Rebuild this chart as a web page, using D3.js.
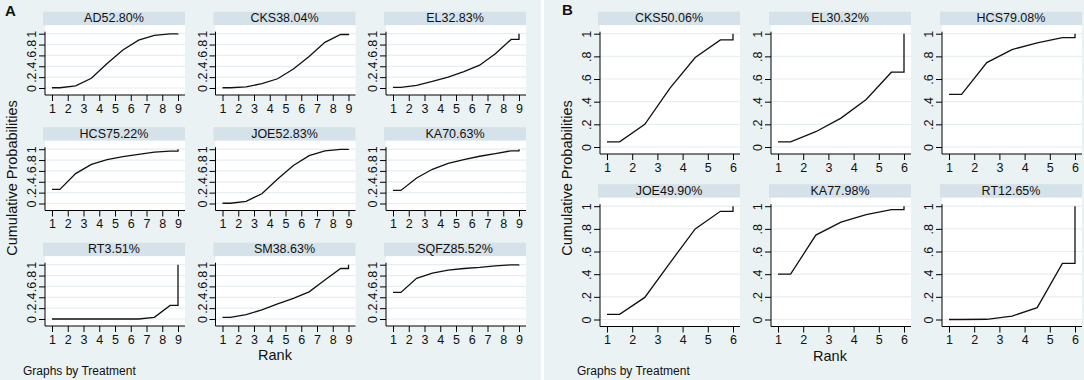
<!DOCTYPE html>
<html>
<head>
<meta charset="utf-8">
<script src="https://cdn.jsdelivr.net/npm/d3@7"></script>
<style>
  body { margin: 0; background: #fff; }
  svg { display: block; font-family: "Liberation Sans", Arial, sans-serif; }
</style>
</head>
<body>
<div id="chart"></div>
<script>
// --------------------------------------
//  Data (cumulative rank probabilities, last rank = 1)
// --------------------------------------

const ranksA = [1, 2, 3, 4, 5, 6, 7, 8, 9];
const ranksB = [1, 2, 3, 4, 5, 6];
const yTicks = [0, 0.2, 0.4, 0.6, 0.8, 1];
const yTickLabels = ["0", ".2", ".4", ".6", ".8", "1"];

const titlesA = ["AD52.80%", "CKS38.04%", "EL32.83%", "HCS75.22%", "JOE52.83%",
                 "KA70.63%", "RT3.51%", "SM38.63%", "SQFZ85.52%"];
const adA   = [0.005, 0.04, 0.18, 0.45, 0.70, 0.88, 0.97, 0.995, 1];
const cksA  = [0.005, 0.02, 0.08, 0.17, 0.35, 0.58, 0.84, 0.985, 1];
const elA   = [0.01, 0.05, 0.12, 0.20, 0.30, 0.42, 0.63, 0.895, 1];
const hcsA  = [0.26, 0.55, 0.72, 0.81, 0.865, 0.905, 0.945, 0.965, 1];
const joeA  = [0.005, 0.04, 0.18, 0.45, 0.70, 0.88, 0.97, 0.995, 1];
const kaA   = [0.24, 0.47, 0.63, 0.74, 0.81, 0.87, 0.92, 0.97, 1];
const rtA   = [0, 0, 0, 0, 0, 0, 0.03, 0.25, 1];
const smA   = [0.03, 0.08, 0.17, 0.28, 0.38, 0.50, 0.72, 0.93, 1];
const sqfzA = [0.49, 0.75, 0.845, 0.90, 0.93, 0.95, 0.98, 0.997, 1];
const seriesA = [adA, cksA, elA, hcsA, joeA, kaA, rtA, smA, sqfzA];

const titlesB = ["CKS50.06%", "EL30.32%", "HCS79.08%", "JOE49.90%", "KA77.98%", "RT12.65%"];
const cksB = [0.045, 0.20, 0.52, 0.79, 0.945, 1];
const elB  = [0.045, 0.135, 0.255, 0.42, 0.66, 1];
const hcsB = [0.465, 0.745, 0.86, 0.92, 0.965, 1];
const joeB = [0.045, 0.195, 0.50, 0.80, 0.955, 1];
const kaB  = [0.40, 0.745, 0.86, 0.925, 0.969, 1];
const rtB  = [0, 0.002, 0.03, 0.105, 0.495, 1];
const seriesB = [cksB, elB, hcsB, joeB, kaB, rtB];

// --------------------------------------
//  Canvas
// --------------------------------------

const width = 1084, height = 380;
const bg = "#eaf2f3", headBg = "#d6e2e9", grid = "#e6eef1";

const svg = d3.select("#chart")
  .append("svg")
    .attr("width", width)
    .attr("height", height);

svg.append("rect")
    .attr("width", width)
    .attr("height", height)
    .attr("fill", bg);

svg.append("rect")
    .attr("x", 541).attr("y", 0)
    .attr("width", 3).attr("height", height)
    .attr("fill", "#fff");

// --------------------------------------
//  One facet
// --------------------------------------

function facet(left, top, plotH, title, values, ranks) {
  const g = svg.append("g");
  const n = ranks.length;
  const pw = 140;
  const headH = 13.5;
  const axisY = top + plotH;

  const x = d3.scaleLinear([1, n], [left + 7, left + 133]);
  const y = d3.scaleLinear([0, 1], [axisY - 7, top + 22]);

  // header strip
  g.append("rect")
      .attr("x", left - 2).attr("y", top)
      .attr("width", pw + 2).attr("height", headH)
      .attr("fill", headBg);
  g.append("text")
      .attr("x", left + pw / 2 - 1).attr("y", top + 10.5)
      .attr("text-anchor", "middle")
      .attr("font-size", 12.5)
      .attr("fill", "#111")
      .text(title);

  // plot region
  g.append("rect")
      .attr("x", left).attr("y", top + headH)
      .attr("width", pw).attr("height", axisY - top - headH)
      .attr("fill", "#fff");

  g.selectAll("line.grid")
    .data(yTicks)
    .join("line")
      .attr("class", "grid")
      .attr("x1", left).attr("x2", left + pw)
      .attr("y1", d => y(d)).attr("y2", d => y(d))
      .attr("stroke", grid)
      .attr("stroke-width", 1.2);

  // axes
  const yAxis = g.append("g")
      .attr("transform", `translate(${left},0)`)
      .call(d3.axisLeft(y).tickValues(yTicks).tickSize(6).tickSizeOuter(0)
        .tickFormat((d, i) => yTickLabels[i]))
      .call(a => a.select(".domain").remove());
  yAxis.selectAll("text")
      .attr("x", null).attr("dy", null)
      .attr("text-anchor", "middle")
      .attr("transform", "translate(-9,0) rotate(-90)")
      .attr("font-size", 12.5)
      .attr("font-family", "Liberation Sans, Arial, sans-serif")
      .attr("fill", "#111");

  const xAxis = g.append("g")
      .attr("transform", `translate(0,${axisY})`)
      .call(d3.axisBottom(x).tickValues(ranks).tickSize(6).tickSizeOuter(0)
        .tickFormat(d3.format("d")))
      .call(a => a.select(".domain").remove());
  xAxis.selectAll("text")
      .attr("font-size", 12.5)
      .attr("font-family", "Liberation Sans, Arial, sans-serif")
      .attr("fill", "#111");

  g.selectAll(".tick line").attr("stroke", "#000");

  g.append("line")
      .attr("x1", left).attr("x2", left)
      .attr("y1", y(1) - 2).attr("y2", axisY)
      .attr("stroke", "#000");
  g.append("line")
      .attr("x1", left).attr("x2", left + pw)
      .attr("y1", axisY).attr("y2", axisY)
      .attr("stroke", "#000");

  // cumulative ranking curve
  const pts = [[1, values[0]]];
  for (let k = 0; k < n - 1; k++) pts.push([k + 1.5, values[k]]);
  pts.push([n, values[n - 2]], [n, values[n - 1]]);

  const line = d3.line()
      .x(d => x(d[0]))
      .y(d => y(d[1]));

  g.append("path")
      .attr("d", line(pts))
      .attr("fill", "none")
      .attr("stroke", "#111")
      .attr("stroke-width", 1.3);
}

// --------------------------------------
//  Panel A
// --------------------------------------

const leftsA = [45, 215.5, 386];
seriesA.forEach((v, i) => {
  const r = Math.floor(i / 3), c = i % 3;
  facet(leftsA[c], 11.7 + r * 115.5, 83.3, titlesA[i], v, ranksA);
});

// --------------------------------------
//  Panel B
// --------------------------------------

const leftsB = [600, 771, 942];
seriesB.forEach((v, i) => {
  const r = Math.floor(i / 3), c = i % 3;
  facet(leftsB[c], 11.7 + r * 172.5, 142.3, titlesB[i], v, ranksB);
});

// --------------------------------------
//  Labels
// --------------------------------------

const labels = svg.append("g").attr("fill", "#111");

labels.append("text").attr("x", 5).attr("y", 16)
    .attr("font-size", 15).attr("font-weight", "bold").text("A");
labels.append("text").attr("x", 562).attr("y", 15)
    .attr("font-size", 15).attr("font-weight", "bold").text("B");

[[16.5, 178], [571.5, 178]].forEach(([tx, ty]) => {
  labels.append("text")
      .attr("transform", `translate(${tx},${ty}) rotate(-90)`)
      .attr("text-anchor", "middle")
      .attr("font-size", 14.5)
      .text("Cumulative Probabilities");
});

[[275, 360], [830, 361]].forEach(([tx, ty]) => {
  labels.append("text")
      .attr("x", tx).attr("y", ty)
      .attr("text-anchor", "middle")
      .attr("font-size", 14.5)
      .text("Rank");
});

[[23, 375], [577, 375]].forEach(([tx, ty]) => {
  labels.append("text")
      .attr("x", tx).attr("y", ty)
      .attr("font-size", 12)
      .text("Graphs by Treatment");
});
</script>
</body>
</html>
